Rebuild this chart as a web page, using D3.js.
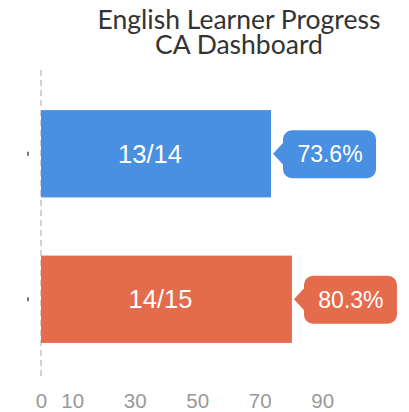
<!DOCTYPE html>
<html>
<head>
<meta charset="utf-8">
<script src="https://cdn.jsdelivr.net/npm/d3@7"></script>
<style>
  body { margin: 0; background: #fff; }
</style>
</head>
<body>
<svg id="chart"></svg>
<script>
// chart data
const years = ['13/14', '14/15']
const values = [73.6, 80.3]
const colors = ['#4a90e2', '#e56b4d']
const tickValues = [0, 10, 30, 50, 70, 90]
const titleLines = ['English Learner Progress', 'CA Dashboard']

const width = 409
const height = 412
const margin = { top: 70, left: 41 }

const svg = d3.select('#chart')
  .attr('width', width)
  .attr('height', height)

const x = d3.scaleLinear()
  .domain([0, 100])
  .range([margin.left, margin.left + 312.5])

const y = d3.scaleBand()
  .domain(years)
  .range([81, 372])
  .paddingInner(0.4)
  .paddingOuter(0.2)

// title
svg.append('g')
  .selectAll('text')
  .data(titleLines)
  .join('text')
  .attr('x', 239)
  .attr('y', (d, i) => 28.5 + i * 25)
  .attr('text-anchor', 'middle')
  .style('font-family', 'Lato, sans-serif')
  .style('font-size', '26.5px')
  .style('fill', '#333')
  .text(d => d)

// dashed zero line
svg.append('line')
  .attr('x1', x(0)).attr('x2', x(0))
  .attr('y1', margin.top).attr('y2', 378)
  .attr('stroke', '#b5b5b5')
  .attr('stroke-width', 1.2)
  .attr('stroke-dasharray', '6,4')

// small category ticks on the left
svg.append('g')
  .selectAll('rect')
  .data(years)
  .join('rect')
  .attr('x', 27)
  .attr('y', d => y(d) + y.bandwidth() / 2 - 2)
  .attr('width', 2)
  .attr('height', 4)
  .attr('fill', '#777')

// bars
svg.append('g')
  .selectAll('rect')
  .data(values)
  .join('rect')
  .attr('x', x(0))
  .attr('y', (d, i) => y(years[i]))
  .attr('width', d => x(d) - x(0))
  .attr('height', y.bandwidth())
  .attr('fill', (d, i) => colors[i])

// labels inside bars
svg.append('g')
  .selectAll('text')
  .data(values)
  .join('text')
  .attr('x', d => (x(0) + x(d)) / 2 - 6)
  .attr('y', (d, i) => y(years[i]) + y.bandwidth() / 2)
  .attr('dy', '0.36em')
  .attr('text-anchor', 'middle')
  .style('font-family', '"Liberation Sans", Arial, sans-serif')
  .style('font-size', '25.5px')
  .style('fill', '#fff')
  .text((d, i) => years[i])

// callouts with percentages
const callout = svg.append('g')
  .selectAll('g')
  .data(values)
  .join('g')
  .attr('transform', (d, i) => `translate(${x(d) + 2},${y(years[i]) + y.bandwidth() / 2})`)

callout.append('rect')
  .attr('x', 10)
  .attr('y', -23.5)
  .attr('width', 93)
  .attr('height', 48)
  .attr('rx', 9)
  .attr('fill', (d, i) => colors[i])

callout.append('path')
  .attr('d', 'M0,0 L12,-13 L12,13 Z')
  .attr('fill', (d, i) => colors[i])

callout.append('text')
  .attr('x', 57)
  .attr('dy', '0.36em')
  .attr('text-anchor', 'middle')
  .style('font-family', '"Liberation Sans", Arial, sans-serif')
  .style('font-size', '23px')
  .style('fill', '#fff')
  .text(d => d.toFixed(1) + '%')

// x axis
const xAxis = d3.axisBottom(x)
  .tickValues(tickValues)
  .tickSize(0)
  .tickPadding(0)

const gx = svg.append('g')
  .attr('transform', 'translate(0,380)')
  .call(xAxis)

gx.select('.domain').remove()
gx.selectAll('text')
  .attr('dy', '0.71em')
  .attr('y', 13)
  .style('font-family', '"Liberation Sans", Arial, sans-serif')
  .style('font-size', '20.5px')
  .style('fill', '#999')
</script>
</body>
</html>
